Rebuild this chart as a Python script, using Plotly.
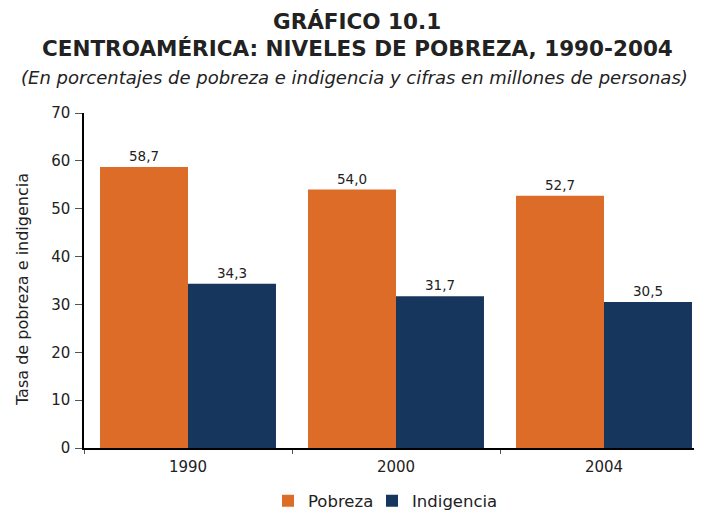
import plotly.graph_objects as go

years = ["1990", "2000", "2004"]
pobreza = [58.7, 54.0, 52.7]
indigencia = [34.3, 31.7, 30.5]
y_ticks = [0, 10, 20, 30, 40, 50, 60, 70]

# the page body adds an 8 px offset; work in reference-pixel coordinates
O = 8
W, H = 694, 504
L, R, T, B = 76, 0, 105, 64
pw = W - L - R
ph = H - T - B

def px(x):
    return (x - O - L) / pw

def py(y):
    return (H - B - (y - O)) / ph

ORANGE = "#DC6C27"
NAVY = "#17365D"
LBL = dict(family="DejaVu Sans", size=13.5, color="#222")
LEGFONT = dict(family="DejaVu Sans", size=16.5, color="#222")

fig = go.Figure()
fig.add_trace(go.Bar(x=years, y=pobreza, name="Pobreza", marker=dict(color=ORANGE, line=dict(width=0)),
                     text=pobreza, texttemplate="%{y:.1f}", textposition="outside", textfont=LBL,
                     cliponaxis=False, legend="legend"))
fig.add_trace(go.Bar(x=years, y=indigencia, name="Indigencia", marker=dict(color=NAVY, line=dict(width=0)),
                     text=indigencia, texttemplate="%{y:.1f}", textposition="outside", textfont=LBL,
                     cliponaxis=False, legend="legend2"))

fig.update_layout(
    width=W, height=H,
    margin=dict(l=L, r=R, t=T, b=B, autoexpand=False),
    paper_bgcolor="white", plot_bgcolor="white",
    barmode="group", bargap=0.154, bargroupgap=0,
    separators=",.",
    showlegend=True,
    legend=dict(orientation="h", x=px(268), xanchor="left", y=py(501), yanchor="middle",
                font=LEGFONT, borderwidth=0, bgcolor="rgba(0,0,0,0)"),
    legend2=dict(orientation="h", x=px(372), xanchor="left", y=py(501), yanchor="middle",
                 font=LEGFONT, borderwidth=0, bgcolor="rgba(0,0,0,0)"),
    font=dict(family="DejaVu Sans", color="#222"),
    xaxis=dict(range=[-0.5, -0.5 + pw / 208], showline=True, linecolor="#000", linewidth=1.5,
               ticks="outside", tickson="boundaries", ticklen=4, tickcolor="#555",
               ticklabelstandoff=4,
               tickfont=dict(size=15, color="#222"), showgrid=False, automargin=False),
    yaxis=dict(range=[0, 70], tickvals=y_ticks, showline=True, linecolor="#000", linewidth=1.5,
               ticks="outside", ticklen=7, tickcolor="#555", showgrid=False, zeroline=False,
               ticklabelstandoff=2,
               tickfont=dict(size=15, color="#222"), automargin=False),
)

fig.add_annotation(text="<b>GRÁFICO 10.1</b>", xref="paper", yref="paper", x=px(357), y=py(21),
                   showarrow=False, font=dict(family="DejaVu Sans", size=21.5, color="#222"),
                   xanchor="center", yanchor="middle")
fig.add_annotation(text="<b>CENTROAMÉRICA: NIVELES DE POBREZA, 1990-2004</b>", xref="paper", yref="paper",
                   x=px(357), y=py(48), showarrow=False,
                   font=dict(family="DejaVu Sans", size=21.5, color="#222"), xanchor="center", yanchor="middle")
fig.add_annotation(text="<i>(En porcentajes de pobreza e indigencia y cifras en millones de personas)</i>",
                   xref="paper", yref="paper", x=px(354), y=py(77), showarrow=False,
                   font=dict(family="DejaVu Sans", size=18, color="#222"), xanchor="center", yanchor="middle")
fig.add_annotation(text="Tasa de pobreza e indigencia", xref="paper", yref="paper", x=px(22), y=py(290),
                   textangle=-90, showarrow=False, font=dict(family="DejaVu Sans", size=16, color="#222"),
                   xanchor="center", yanchor="middle")

fig.write_html("out.html")
